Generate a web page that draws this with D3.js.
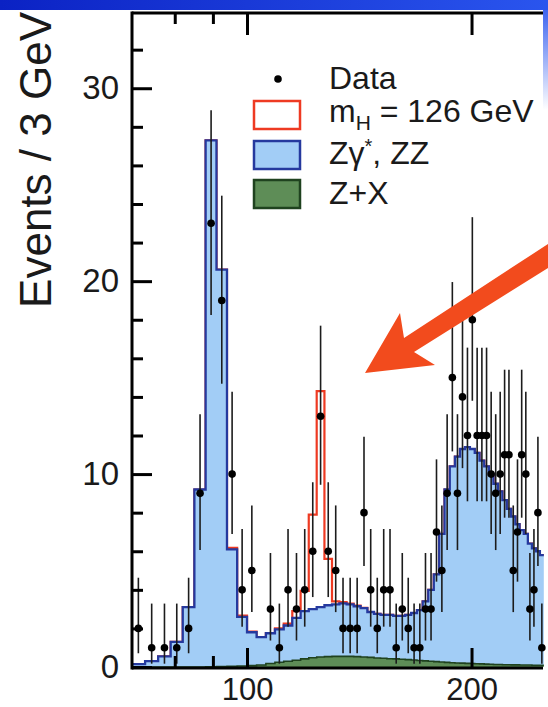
<!DOCTYPE html>
<html>
<head>
<meta charset="utf-8">
<script src="https://cdn.jsdelivr.net/npm/d3@7/dist/d3.min.js"></script>
<style>
html, body { margin: 0; padding: 0; background: #fff; }
svg { display: block; font-family: "Liberation Sans", Arial, Helvetica, sans-serif; }
</style>
</head>
<body>
<div id="chart"></div>
<script>
// 3 GeV bins, m4l from 70 to 250 GeV
const binEdges = [70, 73, 76, 79, 82, 85, 88, 91, 94, 97, 100, 103, 106, 109, 112, 115, 118, 121, 124, 127,
  130, 133, 136, 139, 142, 145, 148, 151, 154, 157, 160, 163, 166, 169, 172, 175, 178, 181, 184, 187,
  190, 193, 196, 199, 202, 205, 208, 211, 214, 217, 220, 223, 226, 229, 232, 235, 238, 241, 244, 247, 250];

const dataCounts = [2, 1, 1, 1, 2, 9, 23, 19, 10, 4, 5, 0, 3, 1, 4, 3, 4, 6, 13, 6,
  5, 2, 2, 2, 8, 4, 2, 4, 4, 1, 3, 2, 1, 1, 3, 3, 7, 5, 9, 15,
  9, 14, 12, 18, 12, 12, 12, 10, 9, 10, 11, 11, 5, 7, 11, 10, 3, 4, 8, 1];

// Zgamma*, ZZ + Z+X (stacked total of backgrounds)
const bkgTotal = [0.15, 0.3, 0.55, 1.3, 3.1, 9.2, 27.3, 20.6, 6.1, 2.6, 1.8, 1.55, 1.75, 1.95, 2.15, 2.55, 2.9, 3.0, 3.1, 3.2,
  3.25, 3.3, 3.25, 3.15, 3.05, 2.85, 2.75, 2.7, 2.7, 2.65, 2.65, 2.7, 2.8, 2.95, 3.4, 4.0, 4.8, 6.9, 9.2, 10.4,
  10.9, 11.3, 11.4, 11.3, 11.1, 10.7, 10.4, 10.0, 9.5, 9.1, 8.65, 8.2, 7.8, 7.4, 7.1, 6.9, 6.4, 6.15, 6.0, 5.8];

const zxBkg = [0, 0, 0, 0, 0, 0, 0.01, 0.02, 0.04, 0.05, 0.07, 0.1, 0.18, 0.25, 0.3, 0.35, 0.42, 0.48, 0.52, 0.54,
  0.55, 0.55, 0.55, 0.54, 0.52, 0.5, 0.47, 0.45, 0.43, 0.42, 0.4, 0.38, 0.36, 0.34, 0.32, 0.3, 0.28, 0.26, 0.24, 0.22,
  0.21, 0.2, 0.19, 0.18, 0.17, 0.16, 0.15, 0.14, 0.13, 0.13, 0.12, 0.12, 0.11, 0.11, 0.1, 0.1, 0.1, 0.09, 0.09, 0.09];

const higgsSig = [0, 0, 0, 0, 0, 0, 0, 0, 0.08, 0.06, 0.03, 0, 0, 0.05, 0.1, 0.35, 1.05, 4.9, 11.2, 2.4,
  0.15, 0.06, 0.04, 0.03, 0.02, 0, 0, 0, 0, 0, 0, 0, 0, 0, 0, 0, 0, 0, 0, 0,
  0, 0, 0, 0, 0, 0, 0, 0, 0, 0, 0, 0, 0, 0, 0, 0, 0, 0, 0, 0];

const yMajorTicks = [0, 10, 20, 30];
const yMinorTicks = [2, 4, 6, 8, 12, 14, 16, 18, 22, 24, 26, 28, 32];
const xMajorTicks = [100, 200];
const xMinorTicks = [80, 90];

const W = 548, H = 707;
const frame = { left: 132, right: 548, top: 13, bottom: 668 };

const x = d3.scaleLog().domain([70, 250]).range([131.5, 543.8]);
const y = d3.scaleLinear().domain([0, 33.9]).range([667, 13]);

const svg = d3.select("#chart").append("svg")
  .attr("width", W).attr("height", H);

// slide background: blue band at the top, edge on the right
const defs = svg.append("defs");
const grad = defs.append("linearGradient")
  .attr("id", "band").attr("x1", 0).attr("x2", 1);
grad.append("stop").attr("offset", 0).attr("stop-color", "#0b22c4");
grad.append("stop").attr("offset", 1).attr("stop-color", "#2a55ee");
const edge = defs.append("linearGradient")
  .attr("id", "edge").attr("x1", 0).attr("x2", 0).attr("y1", 0).attr("y2", 1);
edge.append("stop").attr("offset", 0).attr("stop-color", "#2a55ee").attr("stop-opacity", 1);
edge.append("stop").attr("offset", 1).attr("stop-color", "#2a55ee").attr("stop-opacity", 0);

svg.append("rect").attr("x", 0).attr("y", 0).attr("width", W).attr("height", 10)
  .attr("fill", "url(#band)");
svg.append("rect").attr("x", 543).attr("y", 0).attr("width", 5).attr("height", 110)
  .attr("fill", "url(#edge)");

defs.append("clipPath").attr("id", "plotclip")
  .append("rect").attr("x", frame.left).attr("y", frame.top)
  .attr("width", frame.right - frame.left).attr("height", frame.bottom - frame.top);

const plot = svg.append("g").attr("clip-path", "url(#plotclip)");

const withEdges = vals => binEdges.map((e, i) => [e, vals[Math.min(i, vals.length - 1)]]);
const stepLine = d3.line().curve(d3.curveStepAfter).x(d => x(d[0])).y(d => y(d[1]));
const stepArea = d3.area().curve(d3.curveStepAfter).x(d => x(d[0])).y0(y(0)).y1(d => y(d[1]));

const sigTotal = bkgTotal.map((v, i) => v + higgsSig[i]);

// m_H = 126 GeV on top of the stack (red outline)
plot.append("path").attr("d", stepLine(withEdges(sigTotal)))
  .attr("fill", "none").attr("stroke", "#ee3a22").attr("stroke-width", 2.2);

// Zgamma*, ZZ
plot.append("path").attr("d", stepArea(withEdges(bkgTotal)))
  .attr("fill", "#a2cdf6");
plot.append("path").attr("d", stepLine(withEdges(bkgTotal)))
  .attr("fill", "none").attr("stroke", "#25399e").attr("stroke-width", 2.3);

// Z+X
plot.append("path").attr("d", stepArea(withEdges(zxBkg)))
  .attr("fill", "#5e8d57");
plot.append("path").attr("d", stepLine(withEdges(zxBkg)))
  .attr("fill", "none").attr("stroke", "#1f421f").attr("stroke-width", 1.6);

// data with Poisson (Garwood) uncertainties
const points = dataCounts.map((n, i) => ({
  m: (binEdges[i] + binEdges[i + 1]) / 2,
  n: n,
  lo: n === 0 ? 0 : n * Math.pow(1 - 1 / (9 * n) - 1 / (3 * Math.sqrt(n)), 3),
  hi: (n + 1) * Math.pow(1 - 1 / (9 * (n + 1)) + 1 / (3 * Math.sqrt(n + 1)), 3)
})).filter(d => d.n > 0);

plot.selectAll(".err").data(points).enter().append("line")
  .attr("class", "err")
  .attr("x1", d => x(d.m)).attr("x2", d => x(d.m))
  .attr("y1", d => y(d.lo)).attr("y2", d => y(d.hi))
  .attr("stroke", "#1c1c1c").attr("stroke-width", 1.6);

plot.selectAll(".pt").data(points).enter().append("circle")
  .attr("class", "pt")
  .attr("cx", d => x(d.m)).attr("cy", d => y(d.n)).attr("r", 3.8)
  .attr("fill", "#000");

// axes
const axisStyle = g => {
  g.select(".domain").remove();
  g.selectAll(".tick line").attr("stroke", "#000").attr("stroke-width", 3);
  g.selectAll("text").attr("fill", "#1a1a1a").attr("font-size", 33)
    .attr("font-family", "'Liberation Sans', Arial, sans-serif");
};

svg.append("g").attr("transform", `translate(${frame.left},0)`)
  .call(d3.axisLeft(y).tickValues(yMinorTicks).tickSize(-11).tickFormat(""))
  .call(axisStyle);
svg.append("g").attr("transform", `translate(${frame.left},0)`)
  .call(d3.axisLeft(y).tickValues(yMajorTicks).tickSize(-20).tickPadding(13).tickFormat(d3.format("d")))
  .call(axisStyle);

svg.append("g").attr("transform", `translate(0,${frame.bottom})`)
  .call(d3.axisBottom(x).tickValues(xMinorTicks).tickSize(-12).tickFormat(""))
  .call(axisStyle);
svg.append("g").attr("transform", `translate(0,${frame.bottom})`)
  .call(d3.axisBottom(x).tickValues(xMajorTicks).tickSize(-20).tickPadding(10).tickFormat(d3.format("d")))
  .call(axisStyle)
  .call(g => g.selectAll("text").attr("font-size", 31));

svg.append("g").attr("transform", `translate(0,${frame.top})`)
  .call(d3.axisTop(x).tickValues(xMinorTicks).tickSize(-11).tickFormat(""))
  .call(axisStyle);
svg.append("g").attr("transform", `translate(0,${frame.top})`)
  .call(d3.axisTop(x).tickValues(xMajorTicks).tickSize(-22).tickFormat(""))
  .call(axisStyle);

// frame lines
svg.append("line").attr("x1", frame.left).attr("x2", frame.left)
  .attr("y1", frame.top - 1.5).attr("y2", frame.bottom + 1.5)
  .attr("stroke", "#000").attr("stroke-width", 3);
svg.append("line").attr("x1", frame.left).attr("x2", 543)
  .attr("y1", frame.bottom).attr("y2", frame.bottom)
  .attr("stroke", "#000").attr("stroke-width", 3);
svg.append("line").attr("x1", frame.left).attr("x2", 543)
  .attr("y1", frame.top).attr("y2", frame.top)
  .attr("stroke", "#000").attr("stroke-width", 3);

// y title
svg.append("text")
  .attr("transform", "translate(51,12) rotate(-90)")
  .attr("text-anchor", "end")
  .attr("font-size", 44).attr("fill", "#1a1a1a")
  .text("Events / 3 GeV");

// legend
const legend = svg.append("g").attr("fill", "#1a1a1a").attr("font-size", 32);
legend.append("circle").attr("cx", 278).attr("cy", 79).attr("r", 3.8).attr("fill", "#000");
legend.append("text").attr("x", 329).attr("y", 89).text("Data");

legend.append("rect").attr("x", 254).attr("y", 101).attr("width", 46).attr("height", 28)
  .attr("fill", "#fff").attr("stroke", "#ee3a22").attr("stroke-width", 2.5);
const mh = legend.append("text").attr("x", 329).attr("y", 122);
mh.append("tspan").text("m");
mh.append("tspan").attr("font-size", 21).attr("dy", 8).text("H");
mh.append("tspan").attr("dy", -8).text(" = 126 GeV");

legend.append("rect").attr("x", 254).attr("y", 141).attr("width", 46).attr("height", 28)
  .attr("fill", "#a2cdf6").attr("stroke", "#25399e").attr("stroke-width", 2.5);
const zz = legend.append("text").attr("x", 329).attr("y", 164);
zz.append("tspan").text("Z\u03b3");
zz.append("tspan").attr("font-size", 20).attr("dy", -11).text("*");
zz.append("tspan").attr("dy", 11).text(", ZZ");

legend.append("rect").attr("x", 254).attr("y", 180).attr("width", 46).attr("height", 28)
  .attr("fill", "#5e8d57").attr("stroke", "#1f421f").attr("stroke-width", 2.5);
legend.append("text").attr("x", 329).attr("y", 204).text("Z+X");

// red arrow pointing at the 126 GeV excess
svg.append("polygon")
  .attr("points", [[365, 373], [400, 313], [404, 338], [548, 244], [548, 268], [414, 352], [435, 365]].join(" "))
  .attr("fill", "#f24b1d");
</script>
</body>
</html>
